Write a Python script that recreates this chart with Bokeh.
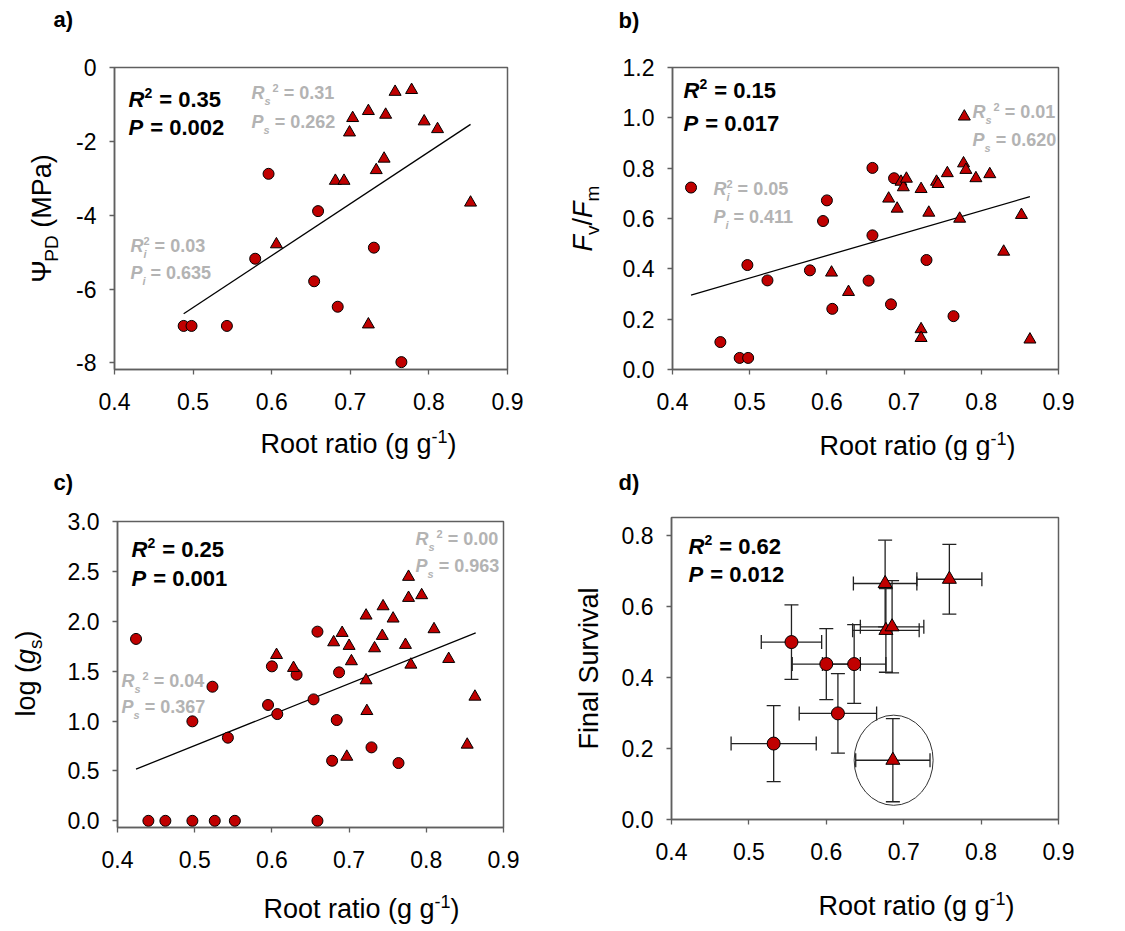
import math
from bokeh.plotting import figure
from bokeh.models import (Range1d, FixedTicker, Label, Whisker, TeeHead,
                          ColumnDataSource, NumeralTickFormatter)
from bokeh.layouts import column, row
from bokeh.embed import file_html
from bokeh.resources import INLINE

FONT = "Liberation Sans"
RED = "#c00000"
GRAY = "#b3b3b3"
AXIS = "#5f5f5f"
BASE_SHIFT = 0.36   # label anchor correction (fraction of font size)

# ---------------- data ----------------
x_ticks = [0.4, 0.5, 0.6, 0.7, 0.8, 0.9]

# a) pre-dawn water potential
a_circ_x = [0.488, 0.498, 0.543, 0.579, 0.596, 0.659, 0.654, 0.684, 0.730, 0.765]
a_circ_y = [-7.0, -7.0, -7.0, -5.18, -2.88, -3.89, -5.79, -6.48, -4.88, -7.98]
a_tri_x = [0.606, 0.681, 0.692, 0.699, 0.703, 0.723, 0.745, 0.757, 0.778, 0.794,
           0.811, 0.743, 0.733, 0.723, 0.853]
a_tri_y = [-4.79, -3.07, -3.07, -1.76, -1.37, -1.18, -1.28, -0.66, -0.61, -1.46,
           -1.67, -2.47, -2.78, -6.96, -3.66]
fit_a_x = [0.488, 0.853]
fit_a_y = [-6.67, -1.54]
a_yticks = [-8, -6, -4, -2, 0]

# b) Fv/Fm
b_circ_x = [0.424, 0.462, 0.487, 0.498, 0.497, 0.523, 0.578, 0.595, 0.600, 0.607,
            0.654, 0.659, 0.659, 0.683, 0.687, 0.729, 0.764]
b_circ_y = [0.723, 0.109, 0.046, 0.046, 0.415, 0.354, 0.394, 0.590, 0.672, 0.241,
            0.353, 0.533, 0.801, 0.259, 0.760, 0.435, 0.212]
b_tri_x = [0.606, 0.628, 0.680, 0.691, 0.696, 0.699, 0.703, 0.722, 0.732, 0.722,
           0.722, 0.742, 0.744, 0.756, 0.772, 0.777, 0.780, 0.778, 0.793, 0.811,
           0.829, 0.852, 0.863]
b_tri_y = [0.385, 0.308, 0.679, 0.639, 0.746, 0.724, 0.758, 0.717, 0.623, 0.160,
           0.125, 0.746, 0.737, 0.780, 0.599, 0.819, 0.793, 1.005, 0.760, 0.776,
           0.468, 0.614, 0.119]
fit_b_x = [0.424, 0.863]
fit_b_y = [0.296, 0.687]
b_yticks = [0.0, 0.2, 0.4, 0.6, 0.8, 1.0, 1.2]

# c) log(gs)
c_circ_x = [0.424, 0.440, 0.462, 0.497, 0.526, 0.552, 0.659, 0.497, 0.523, 0.543,
            0.595, 0.600, 0.607, 0.632, 0.654, 0.659, 0.678, 0.684, 0.687, 0.729, 0.764]
c_circ_y = [1.823, 0.0, 0.0, 0.0, 0.0, 0.0, 0.0, 0.997, 1.344, 0.833,
            1.161, 1.548, 1.070, 1.465, 1.217, 1.896, 0.602, 1.010, 1.488, 0.736, 0.579]
c_tri_x = [0.606, 0.628, 0.680, 0.691, 0.697, 0.700, 0.703, 0.722, 0.722, 0.723,
           0.733, 0.744, 0.743, 0.757, 0.773, 0.777, 0.777, 0.780, 0.794, 0.810,
           0.829, 0.853, 0.863]
c_tri_y = [1.662, 1.532, 1.789, 1.883, 0.642, 1.753, 1.599, 2.057, 1.408, 1.100,
           1.729, 2.150, 1.853, 2.027, 1.763, 2.445, 2.234, 1.565, 2.261, 1.920,
           1.622, 0.763, 1.244]
fit_c_x = [0.424, 0.864]
fit_c_y = [0.518, 1.883]
c_yticks = [0.0, 0.5, 1.0, 1.5, 2.0, 2.5, 3.0]

# d) final survival (means +/- error)
d_circ_x = [0.532, 0.555, 0.600, 0.636, 0.615]
d_circ_y = [0.214, 0.500, 0.438, 0.438, 0.299]
d_circ_xerr = [0.055, 0.039, 0.044, 0.041, 0.050]
d_circ_yerr = [0.107, 0.105, 0.100, 0.111, 0.112]
d_tri_x = [0.676, 0.677, 0.685, 0.759, 0.686]
d_tri_y = [0.665, 0.533, 0.543, 0.677, 0.167]
d_tri_xerr = [0.041, 0.043, 0.041, 0.042, 0.048]
d_tri_yerr = [0.122, 0.118, 0.130, 0.098, 0.117]
d_ell_x = [0.687]
d_ell_y = [0.167]
d_ell_w = [0.102]
d_ell_h = [0.254]
d_yticks = [0.0, 0.2, 0.4, 0.6, 0.8]

# ---------------- text metrics (Arial / Liberation Sans) ----------------
W_REG = {' ': 278, '(': 333, ')': 333, '-': 333, '.': 278, '/': 278, '=': 584,
         'A': 667, 'D': 722, 'F': 611, 'M': 833, 'P': 667, 'R': 722, 'S': 667,
         'a': 556, 'g': 556, 'i': 222, 'l': 222, 'm': 833, 'n': 556, 'o': 556,
         'r': 333, 's': 500, 't': 278, 'u': 556, 'v': 500, 'Ψ': 780}
W_BOLD = {' ': 278, '=': 584, '.': 278, 'R': 722, 'P': 667, 's': 556, 'i': 278,
          ')': 333, 'a': 556, 'b': 611, 'c': 556, 'd': 611}


def tw(text, size, bold):
    tab = W_BOLD if bold else W_REG
    return sum(tab.get(ch, 556) for ch in text) / 1000.0 * size


class Box:
    """A figure placed at absolute page position; texts positioned in page pixels."""

    def _setup_text(self, fl, ft, fw, fh):
        self.fl, self.ft, self.fw, self.fh = fl, ft, fw, fh

    def rich(self, px, py, pieces, angle=0.0):
        cur = 0.0
        for pc in pieces:
            text, size, style, color = pc[0], pc[1], pc[2], pc[3]
            off = pc[4] if len(pc) > 4 else 0
            adv = pc[5] if len(pc) > 5 else True
            gap = pc[6] if len(pc) > 6 else 0
            bold = "bold" in style
            body = text.lstrip(" ")
            lead = tw(text[:len(text) - len(body)], size, bold)
            cur += gap + lead
            shift = BASE_SHIFT * size
            if angle == 0.0:
                x, y = px + cur, py + off - shift
            else:
                x, y = px + off - shift, py - cur
            self.p.add_layout(Label(x=x - self.fl, y=(self.ft + self.fh) - y,
                                    x_units="screen", y_units="screen", text=body,
                                    text_font=FONT, text_font_size=f"{size}px",
                                    text_font_style=style, text_color=color,
                                    text_baseline="alphabetic", text_align="left",
                                    angle=angle))
            if adv:
                cur += tw(body, size, bold)
        return cur

    @staticmethod
    def width_of(pieces):
        tot = 0.0
        for pc in pieces:
            adv = pc[5] if len(pc) > 5 else True
            gap = pc[6] if len(pc) > 6 else 0
            tot += gap
            if adv:
                tot += tw(pc[0], pc[1], "bold" in pc[2])
        return tot

    def hlabel(self, cx, baseline, pieces):
        self.rich(cx - self.width_of(pieces) / 2, baseline, pieces)

    def vlabel(self, bx, cy, pieces):
        self.rich(bx, cy + self.width_of(pieces) / 2, pieces, angle=math.pi / 2)


class Strip(Box):
    def __init__(self, ox, oy, w, h):
        p = figure(width=w, height=h, x_range=Range1d(0, w), y_range=Range1d(0, h),
                   x_axis_type=None, y_axis_type=None,
                   output_backend="svg", toolbar_location=None,
                   min_border=0, min_border_left=0, min_border_right=0,
                   min_border_top=0, min_border_bottom=0)
        p.outline_line_color = None
        p.background_fill_color = "white"
        p.border_fill_color = "white"
        self.p = p
        self._setup_text(ox, oy, w, h)


class Main(Box):
    def __init__(self, ox, oy, bl, fw, br, bt, fh, bb, xr, yr, yticks, yfmt):
        p = figure(width=bl + fw + br, height=bt + fh + bb,
                   x_range=Range1d(*xr), y_range=Range1d(*yr),
                   output_backend="svg", toolbar_location=None,
                   min_border_left=bl, min_border_right=br,
                   min_border_top=bt, min_border_bottom=bb)
        p.background_fill_color = "white"
        p.border_fill_color = "white"
        p.outline_line_color = AXIS
        p.outline_line_width = 1.5
        p.xgrid.visible = False
        p.ygrid.visible = False
        p.xaxis.ticker = FixedTicker(ticks=x_ticks)
        p.yaxis.ticker = FixedTicker(ticks=yticks)
        p.xaxis.formatter = NumeralTickFormatter(format="0.0")
        p.yaxis.formatter = NumeralTickFormatter(format=yfmt)
        for ax in (p.xaxis, p.yaxis):
            ax.axis_line_color = AXIS
            ax.axis_line_width = 1.5
            ax.major_tick_line_color = AXIS
            ax.major_tick_line_width = 1.3
            ax.major_tick_out = 5
            ax.major_tick_in = 0
            ax.minor_tick_out = 0
            ax.minor_tick_in = 0
            ax.major_label_text_font = FONT
            ax.major_label_text_font_size = "23px"
            ax.major_label_text_color = "black"
        p.xaxis.major_label_standoff = 18
        p.yaxis.major_label_standoff = 13
        self.p = p
        self._setup_text(ox + bl, oy + bt, fw, fh)


def stat_black(P, x, y1, y2, r2, pv):
    P.rich(x, y1, [("R", 22, "bold italic", "black"), ("2", 14, "bold", "black", -9),
                   (" = " + r2, 22, "bold", "black", 0, True, 1)])
    P.rich(x, y2, [("P", 22, "bold italic", "black"), (" = " + pv, 22, "bold", "black", 0, True, 1)])


def stat_gray(P, x, y1, y2, sub, r2, pv, stacked=False):
    if stacked:
        P.rich(x, y1, [("R", 18, "bold italic", GRAY), (sub, 11, "bold italic", GRAY, 5, False),
                       ("2", 11, "bold", GRAY, -8), (" = " + r2, 18, "bold", GRAY)])
    else:
        P.rich(x, y1, [("R", 18, "bold italic", GRAY), (sub, 11, "bold italic", GRAY, 5),
                       ("2", 11, "bold", GRAY, -8, True, 2), (" = " + r2, 18, "bold", GRAY)])
    P.rich(x, y2, [("P", 18, "bold italic", GRAY), (sub, 11, "bold italic", GRAY, 5),
                   (" = " + pv, 18, "bold", GRAY)])


XLAB = [("Root ratio (g g", 27, "normal", "black"), ("-1", 18, "normal", "black", -11),
        (")", 27, "normal", "black")]


def points(P, cx, cy, tx, ty):
    P.p.scatter(cx, cy, marker="circle", size=11, fill_color=RED, line_color="black", line_width=1)
    P.p.scatter(tx, ty, marker="triangle", size=12, fill_color=RED, line_color="black", line_width=1)


# ================= panel a (block x 0..555, y 0..460) =================
TA = Strip(0, 0, 555, 50)
LA = Strip(0, 50, 64, 410)
A = Main(64, 50, 50, 393, 48, 17, 302, 50, (0.4, 0.9), (-8.18, 0.0), a_yticks, "0")
BA = Strip(64, 419, 491, 41)
A.p.line(fit_a_x, fit_a_y, line_color="black", line_width=1.3)
points(A, a_circ_x, a_circ_y, a_tri_x, a_tri_y)
TA.rich(53, 27, [("a)", 22, "bold", "black")])
stat_black(A, 128, 107, 135, "0.35", "0.002")
stat_gray(A, 251, 99, 128, "s", "0.31", "0.262")
stat_gray(A, 130, 252, 279, "i", "0.03", "0.635", stacked=True)
LA.vlabel(51, 218, [("Ψ", 27, "normal", "black"), ("PD", 19, "normal", "black", 7),
                    (" (MPa)", 27, "normal", "black")])
BA.hlabel(308, 453, XLAB)
block_a = column(TA.p, row(LA.p, column(A.p, BA.p)))

# ================= panel b (block x 555..1125, y 0..460) =================
TB = Strip(555, 0, 570, 50)
LB = Strip(555, 50, 64, 410)
B = Main(619, 50, 50, 389, 67, 17, 302, 50, (0.4, 0.9), (0.0, 1.2), b_yticks, "0.0")
BB = Strip(619, 419, 506, 41)
B.p.line(fit_b_x, fit_b_y, line_color="black", line_width=1.3)
points(B, b_circ_x, b_circ_y, b_tri_x, b_tri_y)
TB.rich(618, 28, [("b)", 22, "bold", "black")])
stat_black(B, 680, 98, 131, "0.15", "0.017")
stat_gray(B, 969, 118, 146, "s", "0.01", "0.620")
stat_gray(B, 710, 195, 223, "i", "0.05", "0.411", stacked=True)
LB.vlabel(592, 218, [("F", 27, "italic", "black"), ("v", 19, "normal", "black", 7),
                     ("/", 27, "normal", "black"), ("F", 27, "italic", "black"),
                     ("m", 19, "normal", "black", 7)])
BB.hlabel(864, 455, XLAB)
block_b = column(TB.p, row(LB.p, column(B.p, BB.p)))

# ================= panel c (block x 0..554, y 460..931) =================
TC = Strip(0, 460, 554, 45)
LC = Strip(0, 505, 64, 426)
C = Main(64, 505, 50, 389, 51, 16, 306, 50, (0.4, 0.9), (-0.067, 3.0), c_yticks, "0.0")
BC = Strip(64, 877, 490, 54)
C.p.line(fit_c_x, fit_c_y, line_color="black", line_width=1.3)
points(C, c_circ_x, c_circ_y, c_tri_x, c_tri_y)
TC.rich(53, 490, [("c)", 22, "bold", "black")])
stat_black(C, 128, 557, 586, "0.25", "0.001")
stat_gray(C, 412, 545, 572, "s", "0.00", "0.963")
stat_gray(C, 118, 687, 713, "s", "0.04", "0.367")
LC.vlabel(35, 673, [("log (", 27, "normal", "black"), ("g", 27, "italic", "black"),
                    ("s", 19, "normal", "black", 7), (")", 27, "normal", "black")])
BC.hlabel(308, 918, XLAB)
block_c = column(TC.p, row(LC.p, column(C.p, BC.p)))

# ================= panel d (block x 554..1125, y 460..931) =================
TD = Strip(554, 460, 571, 45)
LD = Strip(554, 505, 64, 426)
D = Main(618, 505, 50, 390, 67, 12, 302, 50, (0.4, 0.9), (0.0, 0.851), d_yticks, "0.0")
BD = Strip(618, 869, 507, 62)
src_c = ColumnDataSource(dict(
    x=d_circ_x, y=d_circ_y,
    xlo=[v - e for v, e in zip(d_circ_x, d_circ_xerr)], xhi=[v + e for v, e in zip(d_circ_x, d_circ_xerr)],
    ylo=[v - e for v, e in zip(d_circ_y, d_circ_yerr)], yhi=[v + e for v, e in zip(d_circ_y, d_circ_yerr)]))
src_t = ColumnDataSource(dict(
    x=d_tri_x, y=d_tri_y,
    xlo=[v - e for v, e in zip(d_tri_x, d_tri_xerr)], xhi=[v + e for v, e in zip(d_tri_x, d_tri_xerr)],
    ylo=[v - e for v, e in zip(d_tri_y, d_tri_yerr)], yhi=[v + e for v, e in zip(d_tri_y, d_tri_yerr)]))
for src in (src_c, src_t):
    for dim, base, lo, hi in (("height", "x", "ylo", "yhi"), ("width", "y", "xlo", "xhi")):
        w = Whisker(source=src, base=base, lower=lo, upper=hi, dimension=dim,
                    line_color="#222222", line_width=1.3,
                    upper_head=TeeHead(size=14, line_color="#222222", line_width=1.3),
                    lower_head=TeeHead(size=14, line_color="#222222", line_width=1.3))
        D.p.add_layout(w)
D.p.ellipse(x=d_ell_x, y=d_ell_y, width=d_ell_w, height=d_ell_h,
            fill_color=None, line_color="#333333", line_width=1)
D.p.scatter("x", "y", source=src_c, marker="circle", size=13, fill_color=RED,
            line_color="black", line_width=1)
D.p.scatter("x", "y", source=src_t, marker="triangle", size=14, fill_color=RED,
            line_color="black", line_width=1)
TD.rich(618, 490, [("d)", 22, "bold", "black")])
stat_black(D, 685, 554, 582, "0.62", "0.012")
LD.vlabel(598, 668, [("Final Survival", 27, "normal", "black")])
BD.hlabel(863, 915, XLAB)
block_d = column(TD.p, row(LD.p, column(D.p, BD.p)))

layout = column(row(block_a, block_b), row(block_c, block_d))
open("out.html", "w").write(file_html(layout, INLINE))
